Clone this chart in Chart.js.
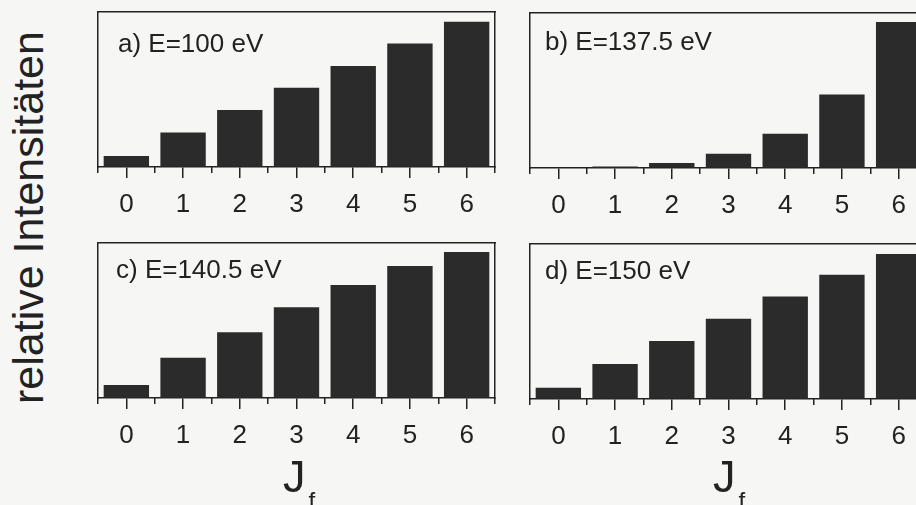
<!DOCTYPE html>
<html>
<head>
<meta charset="utf-8">
<script src="https://cdn.jsdelivr.net/npm/chart.js@4.4.1/dist/chart.umd.min.js"></script>
<style>
    html, body {
        margin: 0;
        padding: 0;
        width: 916px;
        height: 505px;
        overflow: hidden;
        background: #f6f6f4;
        font-family: "Liberation Sans", Arial, sans-serif;
        color: #222;
    }
    canvas { position: absolute; }
    #ylabel {
        position: absolute;
        left: -172px;
        top: 196px;
        width: 400px;
        height: 43px;
        line-height: 43px;
        font-size: 43px;
        text-align: center;
        white-space: nowrap;
        transform: rotate(-90deg);
    }
    .jf {
        position: absolute;
        top: 454px;
        font-size: 45px;
        line-height: 1;
        white-space: nowrap;
    }
    .jf span {
        font-size: 24px;
        position: relative;
        top: 17px;
        margin-left: 3px;
    }
</style>
</head>
<body>
<div id="ylabel">relative Intensitäten</div>
<canvas id="panelA" width="420" height="227" style="left:90px;top:0px"></canvas>
<canvas id="panelB" width="420" height="227" style="left:522px;top:1px"></canvas>
<canvas id="panelC" width="420" height="227" style="left:90px;top:231px"></canvas>
<canvas id="panelD" width="420" height="227" style="left:522px;top:232px"></canvas>
<div class="jf" style="left:283px">J<span>f</span></div>
<div class="jf" style="left:713px">J<span>f</span></div>
<script>
// final rotational quantum number J_f
const jf = ['0', '1', '2', '3', '4', '5', '6']

// relative intensities, top of frame = 100
const intensA = [7.1, 22.3, 36.8, 51.1, 65.1, 79.7, 93.7]
const intensB = [0, 1.0, 3.2, 9.2, 22.1, 47.4, 94.2]
const intensC = [8.4, 26.0, 42.4, 58.5, 72.9, 85.2, 94.2]
const intensD = [7.3, 22.6, 37.4, 51.8, 66.2, 80.2, 93.5]

const titles = ['a) E=100 eV', 'b) E=137.5 eV', 'c) E=140.5 eV', 'd) E=150 eV']

const ink = '#222'
const barColor = '#2b2b2b'
const family = '"Liberation Sans", Arial, sans-serif'

const getElementById = (id) => {
    return document.getElementById(id)
}

// panel text in the upper left corner of the frame
const panelLabel = {
    id: 'panelLabel',
    afterDraw(chart, args, opts) {
        const {ctx, chartArea} = chart
        ctx.save()
        ctx.font = '26px ' + family
        ctx.fillStyle = ink
        ctx.textBaseline = 'alphabetic'
        ctx.fillText(opts.text, chartArea.left + opts.dx, chartArea.top + opts.dy)
        ctx.restore()
    }
}

const frameAxis = (position, axis) => ({
    axis: axis,
    position: position,
    min: 0,
    max: 100,
    grid: { drawOnChartArea: false, drawTicks: false },
    border: { color: ink, width: 1.5 },
    ticks: { display: false },
    afterFit: (s) => {
        if (axis === 'y') s.width = 0
        else s.height = 0
    }
})

const makePanel = (id, values, title, dx, dy) => {
    return new Chart(getElementById(id), {
        type: 'bar',
        data: {
            labels: jf,
            datasets: [{
                data: values,
                xAxisID: 'x',
                yAxisID: 'y',
                backgroundColor: barColor,
                borderWidth: 0,
                barPercentage: 0.8,
                categoryPercentage: 1
            }]
        },
        options: {
            responsive: false,
            animation: false,
            events: [],
            layout: { padding: { left: 8, top: 12, right: 15, bottom: 0 } },
            plugins: {
                legend: { display: false },
                tooltip: { enabled: false },
                panelLabel: { text: title, dx: dx, dy: dy }
            },
            scales: {
                x: {
                    type: 'category',
                    position: 'bottom',
                    grid: { offset: false, drawOnChartArea: false, tickLength: 11, tickColor: ink, lineWidth: 1.5 },
                    border: { color: ink, width: 1.5 },
                    ticks: { color: ink, font: { size: 26, family: family }, padding: 11, maxRotation: 0, autoSkip: false },
                    afterFit: (s) => { s.height = 60 }
                },
                // short ticks between the bars
                xm: {
                    type: 'category',
                    axis: 'x',
                    position: { y: 0 },
                    grid: { offset: true, drawOnChartArea: false, tickLength: 6, tickColor: ink, lineWidth: 1.5 },
                    border: { display: false },
                    ticks: { display: false }
                },
                xt: Object.assign(frameAxis('top', 'x'), { type: 'category', min: undefined, max: undefined }),
                y: frameAxis('left', 'y'),
                yr: frameAxis('right', 'y')
            }
        },
        plugins: [panelLabel]
    })
}

makePanel('panelA', intensA, titles[0], 20, 40)
makePanel('panelB', intensB, titles[1], 15, 37)
makePanel('panelC', intensC, titles[2], 18, 35)
makePanel('panelD', intensD, titles[3], 15, 35)
</script>
</body>
</html>
